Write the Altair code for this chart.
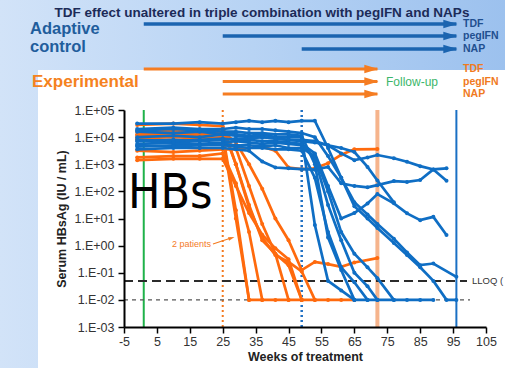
import altair as alt
import pandas as pd

# ---------------- data: (week, log10 HBsAg IU/mL) ----------------
ctl_01 = [(-1,3.55),(10,3.6),(18,3.6),(25,3.6),(29,3.55),(33,3.5),(37,3.1),(41,2.88),(45,2.85),(49,2.82),(53,2.8),(57,2.9),(61,2.3),(65,2.2),(69,2.15),(72,2.23),(77,2.38),(81,2.35),(85,2.42),(89,2.81),(93,2.85)]
ctl_02 = [(-1,4.0),(10,4.05),(18,4.0),(25,4.1),(29,4.05),(33,4.0),(37,4.0),(41,3.95),(45,3.9),(49,3.85),(53,3.8),(57,3.7),(61,3.4),(65,3.15),(69,3.25),(72,3.34),(77,3.22),(81,3.09),(85,2.93),(89,2.81),(93,2.39)]
ctl_03 = [(-1,4.2),(10,4.15),(18,4.2),(25,4.1),(29,4.1),(33,4.05),(37,4.1),(41,4.0),(45,4.0),(49,4.0),(53,0.76),(57,-1.3),(61,-1.65),(65,-2),(69,-2),(72,-2),(77,-2),(81,-2),(85,-2),(89,-2)]
ctl_04 = [(-1,3.75),(10,3.8),(18,3.75),(25,3.8),(29,3.85),(33,3.8),(37,3.75),(41,3.8),(45,3.75),(49,3.7),(53,3.2),(57,1.5),(61,0.2),(65,-1.0),(69,-1.5),(72,-2)]
ctl_05 = [(-1,3.9),(10,3.85),(18,3.9),(25,3.95),(29,3.9),(33,3.9),(37,3.85),(41,3.85),(45,3.8),(49,3.75),(53,3.4),(57,2.2),(61,1.0),(65,1.2),(69,1.55),(72,1.9),(77,1.56),(81,1.19),(85,0.94),(89,1.06),(93,0.39)]
ctl_06 = [(-1,3.65),(10,3.7),(18,3.7),(25,3.75),(29,3.7),(33,3.7),(37,3.65),(41,3.7),(45,3.6),(49,3.6),(53,3.3),(57,2.0),(61,0.5),(65,-0.3),(69,-0.8),(72,-1.2),(77,-2)]
ctl_07 = [(-1,4.5),(10,4.5),(18,4.55),(25,4.5),(29,4.55),(33,4.6),(37,4.55),(41,4.6),(45,4.55),(49,4.6),(53,4.6),(57,3.6),(61,2.5),(65,1.45),(69,1.0),(72,0.65),(77,0.1),(81,-0.35),(85,-0.8),(89,-1.3),(93,-2),(96,-2)]
ctl_08 = [(-1,4.3),(10,4.35),(18,4.3),(25,4.3),(29,4.35),(33,4.3),(37,4.3),(41,4.25),(45,4.2),(49,4.15),(53,4.0),(57,3.3),(61,2.5),(65,1.6),(69,1.15),(72,0.8),(77,0.25),(81,-0.25),(85,-0.72),(89,-0.66),(96,-1.15)]
ctl_09 = [(-1,3.85),(10,3.9),(18,3.85),(25,3.9),(29,3.95),(33,3.95),(37,4.0),(41,3.95),(45,3.9),(49,3.9),(53,3.85),(57,3.7),(61,3.6),(65,3.45),(69,2.9),(72,2.4),(77,1.6)]
ctl_10 = [(-1,4.25),(10,4.3),(18,4.25),(25,4.2),(29,4.2),(33,4.15),(37,4.15),(41,4.1),(45,4.1),(49,4.05),(53,3.0),(57,0.3),(61,-0.9),(65,-2)]
ctl_11 = [(-1,3.7),(10,3.65),(18,3.7),(25,3.7),(29,3.65),(33,3.6),(37,3.6),(41,3.55),(45,3.55),(49,3.5),(53,2.5),(57,0.5),(61,-0.8),(65,-1.35),(69,-2)]

exp_01 = [(-1,3.95),(10,4.0),(18,3.95),(25,4.0),(29,1.0),(33,-2),(37,-2)]
exp_02 = [(-1,4.05),(10,4.1),(18,4.05),(25,4.1),(29,1.3),(33,-2)]
exp_03 = [(-1,3.25),(10,3.3),(18,3.3),(25,3.4),(29,2.3),(33,0.5),(37,-2),(41,-2),(45,-2),(49,-2),(53,-2),(57,-2),(61,-2),(65,-2)]
exp_04 = [(-1,4.2),(10,4.25),(18,4.2),(25,4.3),(29,3.0),(33,1.5),(37,0.2),(41,-0.3),(45,-0.72),(49,-2)]
exp_05 = [(-1,4.45),(10,4.5),(18,4.45),(25,4.4),(29,3.0),(33,1.4),(37,0.3),(41,-0.35),(45,-0.6),(49,-0.95),(53,-2)]
exp_06 = [(-1,3.9),(10,3.85),(18,3.9),(25,3.95),(29,3.6),(33,2.2),(37,0.8),(41,-0.3),(45,-2)]
exp_07 = [(-1,3.5),(10,3.45),(18,3.5),(25,3.55),(29,3.55),(33,3.6),(37,3.65),(41,3.5),(45,2.88),(49,2.82),(53,2.85),(57,3.04),(61,3.35),(65,3.55),(72,3.56)]
exp_08 = [(-1,4.1),(10,4.15),(18,4.1),(25,4.2),(29,3.8),(33,3.0),(37,2.1),(41,1.0),(45,0.2),(49,-0.9),(53,-0.6),(57,-0.68),(61,-0.78),(65,-0.62),(72,-0.46)]
exp_09 = [(-1,3.15),(10,3.2),(18,3.2),(25,3.2),(29,2.2),(33,1.2),(37,0.4),(41,-0.1),(45,-0.5),(49,-2)]

control_patients = [ctl_01, ctl_02, ctl_03, ctl_04, ctl_05, ctl_06, ctl_07, ctl_08, ctl_09, ctl_10, ctl_11]
experimental_patients = [exp_01, exp_02, exp_03, exp_04, exp_05, exp_06, exp_07, exp_08, exp_09]

x_ticks = [-5, 5, 15, 25, 35, 45, 55, 65, 75, 85, 95, 105]
y_ticks = [1e-3, 1e-2, 1e-1, 1e0, 1e1, 1e2, 1e3, 1e4, 1e5]

# vertical reference lines (weeks)
vline_green = [1]
vline_orange_dot = [25]
vline_blue_dot = [49]
vline_salmon = [72]
vline_blue = [96]
lloq_value = [0.05]
floor_value = [0.01]

# treatment arrows (weeks)
ctl_arrow_labels = ["TDF", "pegIFN", "NAP"]
ctl_arrow_start = [1, 25, 49]
ctl_arrow_end = [96, 96, 96]
exp_arrow_labels = ["TDF", "pegIFN", "NAP"]
exp_arrow_start = [1, 25, 25]
exp_arrow_end = [72, 72, 72]

# ---------------- build tables ----------------
rows = []
for i, p in enumerate(control_patients):
    for w, lv in p:
        rows.append({"patient": f"C{i+1}", "group": "Adaptive control", "week": w, "hbsag": 10 ** lv})
for i, p in enumerate(experimental_patients):
    for w, lv in p:
        rows.append({"patient": f"E{i+1}", "group": "Experimental", "week": w, "hbsag": 10 ** lv})
df = pd.DataFrame(rows)

BLUE = "#0f6ec4"
ORANGE = "#ff6a0d"
ARROW_BLUE = "#1b64b0"
ARROW_ORANGE = "#f57d22"
FONT = "Liberation Sans"

W, H = 362, 217
xs = alt.Scale(domain=[-5, 105], nice=False, zero=False)
ys = alt.Scale(type="log", domain=[1e-3, 1e5], nice=False)

X_AXIS = alt.Axis(
    values=x_ticks, title="Weeks of treatment", grid=False, zindex=2,
    labelExpr="'' + datum.value",
    labelFontSize=12.5, labelColor="#333333", labelFont=FONT, labelPadding=2,
    titleFont=FONT, titleFontSize=12.5, titleFontWeight="bold", titleColor="#222222",
    titlePadding=3, domainColor="black", domainWidth=2, tickColor="black",
    tickWidth=1.5, tickSize=6, labelFlush=False)
Y_AXIS = alt.Axis(
    values=y_ticks, title="Serum HBsAg (IU / mL)", grid=False, zindex=2,
    labelExpr="'1.E' + (datum.value >= 1 ? '+' : '-') + '0' + abs(round(log(datum.value)/LN10))",
    labelFontSize=12.5, labelColor="#333333", labelFont=FONT, labelPadding=4,
    titleFont=FONT, titleFontSize=12.5, titleFontWeight="bold", titleColor="#222222",
    titlePadding=6, domainColor="black", domainWidth=2, tickColor="black",
    tickWidth=1.5, tickSize=6, labelFlush=False)

def X(field):
    return alt.X(field, scale=xs, axis=X_AXIS)

def Y(field):
    return alt.Y(field, scale=ys, axis=Y_AXIS)

one = pd.DataFrame({"k": [0]})

bg = alt.Chart(one).mark_rect(
    fill=alt.Gradient(gradient="linear",
                      stops=[alt.GradientStop(color="#d2e3f8", offset=0),
                             alt.GradientStop(color="#b7d3f4", offset=0.5),
                             alt.GradientStop(color="#9cc1ee", offset=1)],
                      x1=0, x2=1, y1=0, y2=0)
).encode(x=alt.value(-124), x2=alt.value(381), y=alt.value(-110), y2=alt.value(258))

panel = alt.Chart(one).mark_rect(fill="white").encode(
    x=alt.value(-86), x2=alt.value(381), y=alt.value(-40), y2=alt.value(258))

layers = [bg, panel]

def txt(text, x, y, size, color, weight="normal", align="left", font=FONT, baseline="middle"):
    return alt.Chart(one).mark_text(text=text, fontSize=size, color=color, fontWeight=weight,
                                    align=align, baseline=baseline, font=font).encode(
        x=alt.value(x), y=alt.value(y))

layers.append(txt("TDF effect unaltered in triple combination with pegIFN and NAPs", 138, -97, 13.5, "#1c2b58", "bold", "center"))
layers.append(txt("Adaptive", -94, -81.5, 16.5, "#1f5d9c", "bold"))
layers.append(txt("control", -94, -63.5, 16.5, "#1f5d9c", "bold"))
layers.append(txt("Experimental", -92, -28, 17, "#f58220", "bold"))
layers.append(txt("Follow-up", 262, -28, 12, "#3cb66a"))

arrow_path = "M-1,-0.6L1,0L-1,0.6Z"

def arrows(starts, ends, labels, ypix, color, lw, lblcolor):
    out = []
    for s, e, lab, yp in zip(starts, ends, labels, ypix):
        d = pd.DataFrame({"start": [s], "end": [e]})
        base = alt.Chart(d)
        out.append(base.mark_rule(color=color, strokeWidth=lw).encode(
            x=X("start:Q"), x2="end:Q", y=alt.value(yp)))
        out.append(base.mark_point(shape=arrow_path, filled=True, fill=color, stroke=None,
                                   size=200, opacity=1, xOffset=-6).encode(
            x=X("end:Q"), y=alt.value(yp)))
        out.append(txt(lab, 339, yp, 10.5, lblcolor, "bold"))
    return out

layers += arrows(ctl_arrow_start, ctl_arrow_end, ctl_arrow_labels, [-86, -74, -61], ARROW_BLUE, 3.3, "#1f4f8f")
layers += arrows(exp_arrow_start, exp_arrow_end, exp_arrow_labels, [-41, -28.5, -16], ARROW_ORANGE, 2.8, "#f07a1e")

def vline(vals, color, width, dash=None):
    kw = dict(color=color, strokeWidth=width)
    if dash:
        kw["strokeDash"] = dash
    return alt.Chart(pd.DataFrame({"week": vals})).mark_rule(**kw).encode(
        x=X("week:Q"), y=alt.value(0), y2=alt.value(H))

layers.append(vline(vline_green, "#1fb24a", 2))
layers.append(vline(vline_orange_dot, "#f47a1f", 2, [2, 3]))
layers.append(vline(vline_blue_dot, "#1f6fc3", 2.5, [2, 3]))
layers.append(vline(vline_salmon, "#f6b48c", 4))
layers.append(vline(vline_blue, "#1a70c4", 2))

layers.append(alt.Chart(pd.DataFrame({"v": lloq_value})).mark_rule(
    color="#2b2b2b", strokeWidth=2, strokeDash=[9, 5]).encode(
    y=Y("v:Q"), x=alt.value(0), x2=alt.value(343)))
layers.append(alt.Chart(pd.DataFrame({"v": floor_value})).mark_rule(
    color="#555555", strokeWidth=1.3, strokeDash=[4, 4]).encode(
    y=Y("v:Q"), x=alt.value(0), x2=alt.value(346)))
layers.append(txt("LLOQ (", 348, 171, 9.5, "#333333"))

def lines(group, color):
    return alt.Chart(df[df.group == group]).mark_line(
        strokeWidth=2.7, color=color,
        point=alt.OverlayMarkDef(filled=True, size=16, color=color)
    ).encode(
        x=X("week:Q"),
        y=Y("hbsag:Q"),
        detail="patient:N",
        order="week:Q",
    )

layers.append(lines("Experimental", ORANGE))
layers.append(lines("Adaptive control", BLUE))

layers.append(txt("HBs", 4, 98, 48, "#000000", "normal", "left",
                  "Liberation Sans Narrow, DejaVu Sans Condensed, sans-serif", "alphabetic"))
layers.append(txt("2 patients", 48, 134, 9, "#f47a1f"))
layers.append(alt.Chart(one).mark_rule(color="#f47a1f", strokeWidth=1.3).encode(
    x=alt.value(89), x2=alt.value(107), y=alt.value(134), y2=alt.value(128)))
layers.append(alt.Chart(one).mark_point(shape=arrow_path, filled=True, fill="#f47a1f", stroke=None,
                                        size=40, opacity=1, angle=342).encode(
    x=alt.value(107.5), y=alt.value(128)))

chart = alt.layer(*layers).properties(
    width=W, height=H,
    autosize=alt.AutoSizeParams(type="none"),
    padding={"left": 124, "top": 110, "right": 19, "bottom": 41},
    background="white",
).configure_view(stroke=None)

chart.save("out.html", embed_options={"renderer": "svg", "actions": False})
